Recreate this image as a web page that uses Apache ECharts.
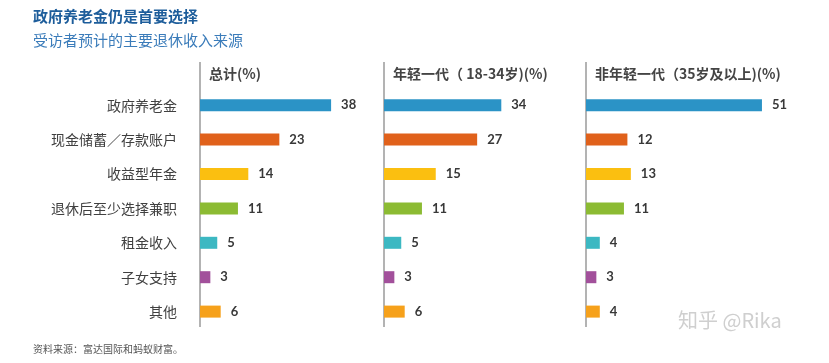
<!DOCTYPE html>
<html>
<head>
<meta charset="utf-8">
<script src="https://cdn.jsdelivr.net/npm/echarts@6/dist/echarts.min.js"></script>
<style>
html,body{margin:0;padding:0;background:#fff;}
#c{width:829px;height:363px;}
</style>
</head>
<body>
<div id="c"></div>
<script>
const categories = ['政府养老金', '现金储蓄／存款账户', '收益型年金', '退休后至少选择兼职', '租金收入', '子女支持', '其他'];
const totalValues = [38, 23, 14, 11, 5, 3, 6];
const youngValues = [34, 27, 15, 11, 5, 3, 6];
const olderValues = [51, 12, 13, 11, 4, 3, 4];
const panelTitles = ['总计(%)', '年轻一代（ 18-34岁)(%)', '非年轻一代（35岁及以上)(%)'];
const barColors = ['#2b93c6', '#e0611b', '#fbbf10', '#8cbb33', '#3cb8c2', '#a2509b', '#f6a11b'];

const FONT = '"Noto Sans CJK SC", "Noto Sans", sans-serif';
const lefts = [200, 384, 586];
const maxes = [50, 50, 60];
const pxPerUnit = 3.45;
const gridTop = 88, band = 34.4;
const datasets = [totalValues, youngValues, olderValues];

const grids = [], xAxes = [], yAxes = [], series = [], titles = [], graphics = [];
lefts.forEach((l, i) => {
  grids.push({left: l, top: gridTop, width: maxes[i] * pxPerUnit, height: band * categories.length});
  xAxes.push({type: 'value', gridIndex: i, min: 0, max: maxes[i], show: false});
  yAxes.push({
    type: 'category', gridIndex: i, data: categories, inverse: true,
    axisLine: {show: false}, axisTick: {show: false}, splitLine: {show: false},
    axisLabel: {show: i === 0, margin: 23, color: '#404040', fontSize: 14, fontFamily: FONT}
  });
  series.push({
    type: 'bar', xAxisIndex: i, yAxisIndex: i, barWidth: 12, silent: true,
    data: datasets[i].map((v, k) => ({value: v, itemStyle: {color: barColors[k]}})),
    label: {show: true, position: 'right', distance: 10, color: '#383838', fontSize: 13, fontWeight: 'bold', fontFamily: 'Lato, sans-serif'}
  });
  titles.push({text: panelTitles[i], left: l + 9, top: 67, padding: 0,
    textStyle: {fontSize: 14, fontWeight: 'bold', color: '#444', fontFamily: FONT}});
  graphics.push({type: 'line', shape: {x1: l, y1: 62, x2: l, y2: 327},
    style: {stroke: '#9a9a9a', lineWidth: 1.5}, silent: true});
});

titles.push({text: '政府养老金仍是首要选择', left: 33, top: 9, padding: 0,
  textStyle: {fontSize: 15, fontWeight: 'bold', color: '#1d5d9b', fontFamily: FONT}});
titles.push({text: '受访者预计的主要退休收入来源', left: 33, top: 33, padding: 0,
  textStyle: {fontSize: 15, fontWeight: 'normal', color: '#3b7cba', fontFamily: FONT}});
titles.push({text: '资料来源：富达国际和蚂蚁财富。', left: 33, top: 344, padding: 0,
  textStyle: {fontSize: 10, fontWeight: 'normal', color: '#555', fontFamily: FONT}});
titles.push({text: '知乎 @Rika', left: 678, top: 310, padding: 0,
  textStyle: {fontSize: 20, fontWeight: 'normal', color: '#cfcfcf', fontFamily: FONT}});

const chart = echarts.init(document.getElementById('c'), null, {renderer: 'canvas'});
chart.setOption({
  animation: false,
  backgroundColor: '#fff',
  title: titles,
  grid: grids,
  xAxis: xAxes,
  yAxis: yAxes,
  series: series,
  graphic: graphics
});
</script>
</body>
</html>
